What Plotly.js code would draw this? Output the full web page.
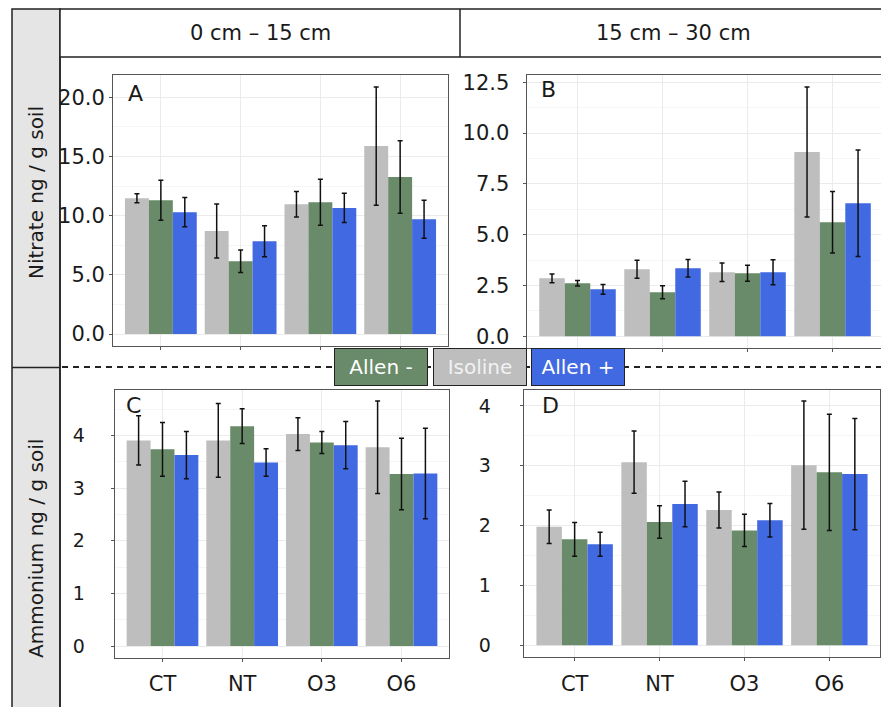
<!DOCTYPE html>
<html>
<head>
<meta charset="utf-8">
<script src="https://cdn.plot.ly/plotly-3.0.1.min.js"></script>
<style>html,body{margin:0;padding:0;background:#fff}#chart{width:881px;height:707px}</style>
</head>
<body>
<div id="chart"></div>
<script>
// ---------- data ----------
const categories = ["CT", "NT", "O3", "O6"];
const seriesNames = ["Isoline", "Allen -", "Allen +"];
const legendOrder = ["Allen -", "Isoline", "Allen +"];
const depthLabels = ["0 cm \u2013 15 cm", "15 cm \u2013 30 cm"];
const rowLabels = ["Nitrate ng / g soil", "Ammonium ng / g soil"];
const panelLetters = ["A", "B", "C", "D"];

// Panel A: nitrate 0-15 cm
const nitrateTopIsoline      = [11.47, 8.71, 10.96, 15.87];
const nitrateTopIsolineErr   = [0.38, 2.28, 1.08, 4.99];
const nitrateTopAllenMinus   = [11.30, 6.14, 11.13, 13.27];
const nitrateTopAllenMinusErr= [1.69, 0.95, 1.95, 3.06];
const nitrateTopAllenPlus    = [10.29, 7.83, 10.65, 9.69];
const nitrateTopAllenPlusErr = [1.23, 1.31, 1.23, 1.60];

// Panel B: nitrate 15-30 cm
const nitrateSubIsoline      = [2.85, 3.30, 3.15, 9.07];
const nitrateSubIsolineErr   = [0.21, 0.44, 0.45, 3.20];
const nitrateSubAllenMinus   = [2.61, 2.17, 3.10, 5.61];
const nitrateSubAllenMinusErr= [0.13, 0.32, 0.39, 1.51];
const nitrateSubAllenPlus    = [2.31, 3.35, 3.15, 6.55];
const nitrateSubAllenPlusErr = [0.24, 0.43, 0.62, 2.62];

// Panel C: ammonium 0-15 cm
const ammoniumTopIsoline      = [3.91, 3.91, 4.03, 3.78];
const ammoniumTopIsolineErr   = [0.47, 0.70, 0.31, 0.88];
const ammoniumTopAllenMinus   = [3.74, 4.18, 3.87, 3.27];
const ammoniumTopAllenMinusErr= [0.51, 0.33, 0.21, 0.68];
const ammoniumTopAllenPlus    = [3.63, 3.49, 3.82, 3.28];
const ammoniumTopAllenPlusErr = [0.45, 0.26, 0.45, 0.86];

// Panel D: ammonium 15-30 cm
const ammoniumSubIsoline      = [1.98, 3.06, 2.26, 3.01];
const ammoniumSubIsolineErr   = [0.28, 0.52, 0.30, 1.07];
const ammoniumSubAllenMinus   = [1.77, 2.06, 1.92, 2.89];
const ammoniumSubAllenMinusErr= [0.28, 0.27, 0.27, 0.97];
const ammoniumSubAllenPlus    = [1.69, 2.36, 2.09, 2.86];
const ammoniumSubAllenPlusErr = [0.20, 0.38, 0.28, 0.93];

// ---------- styling ----------
const W = 881, H = 707;
const FONT = "DejaVu Sans";
const colors = {"Isoline": "#bebebe", "Allen -": "#698b69", "Allen +": "#4169e1"};
const px = v => v / W;
const py = v => 1 - v / H;

const panels = [
  {xa: "x",  ya: "y",  data: [[nitrateTopIsoline, nitrateTopIsolineErr],[nitrateTopAllenMinus, nitrateTopAllenMinusErr],[nitrateTopAllenPlus, nitrateTopAllenPlusErr]]},
  {xa: "x2", ya: "y2", data: [[nitrateSubIsoline, nitrateSubIsolineErr],[nitrateSubAllenMinus, nitrateSubAllenMinusErr],[nitrateSubAllenPlus, nitrateSubAllenPlusErr]]},
  {xa: "x3", ya: "y3", data: [[ammoniumTopIsoline, ammoniumTopIsolineErr],[ammoniumTopAllenMinus, ammoniumTopAllenMinusErr],[ammoniumTopAllenPlus, ammoniumTopAllenPlusErr]]},
  {xa: "x4", ya: "y4", data: [[ammoniumSubIsoline, ammoniumSubIsolineErr],[ammoniumSubAllenMinus, ammoniumSubAllenMinusErr],[ammoniumSubAllenPlus, ammoniumSubAllenPlusErr]]}
];

const traces = [];
panels.forEach(p => {
  seriesNames.forEach((name, i) => {
    traces.push({
      type: "bar", name: name, x: categories, y: p.data[i][0],
      xaxis: p.xa, yaxis: p.ya, showlegend: false,
      marker: {color: colors[name], line: {width: 0}},
      error_y: {type: "data", array: p.data[i][1], visible: true, color: "#111", thickness: 1.5, width: 2.5}
    });
  });
});

function xax(domain, range, showLabels) {
  return {
    domain: domain, range: range, type: "category",
    showgrid: true, gridcolor: "#ebebeb", gridwidth: 1,
    showline: true, mirror: true, linecolor: "#555", linewidth: 1,
    ticks: "outside", ticklen: 3, tickcolor: "#555",
    showticklabels: showLabels, tickfont: {family: FONT, size: 21, color: "#1a1a1a"},
    ticklabelstandoff: 4, fixedrange: true
  };
}
function yax(domain, range, dtick, fmt, standoff, mirror, fsize) {
  return {
    domain: domain, range: range, dtick: dtick, tick0: 0, tickformat: fmt,
    showgrid: true, gridcolor: "#ebebeb", gridwidth: 1, zeroline: false,
    minor: {dtick: dtick / 2, showgrid: true, gridcolor: "#f5f5f5", gridwidth: 1},
    showline: true, mirror: mirror, linecolor: "#555", linewidth: 1,
    ticks: "outside", ticklen: 3, tickcolor: "#555",
    tickfont: {family: FONT, size: fsize, color: "#1a1a1a"},
    ticklabelstandoff: standoff, fixedrange: true
  };
}

const layout = {
  width: W, height: H, margin: {l: 0, r: 0, t: 0, b: 0},
  paper_bgcolor: "#fff", plot_bgcolor: "#fff",
  barmode: "group", bargap: 0.1, bargroupgap: 0,
  showlegend: false,
  font: {family: FONT, color: "#1a1a1a"},
  xaxis:  Object.assign(xax([px(113), px(448)], [-0.6, 3.6], false), {anchor: "y"}),
  yaxis:  Object.assign(yax([py(346), py(74.7)], [-1.01, 21.9], 5, ".1f", 0, true, 21), {anchor: "x"}),
  xaxis2: Object.assign(xax([px(526.5), 1], [-0.6, 3.57], false), {anchor: "y2"}),
  yaxis2: Object.assign(yax([py(348), py(74.7)], [-0.576, 12.87], 2.5, ".1f", 9, false, 21), {anchor: "x2"}),
  xaxis3: Object.assign(xax([px(114.7), px(449.3)], [-0.6, 3.6], true), {anchor: "y3"}),
  yaxis3: Object.assign(yax([py(658), py(389.7)], [-0.228, 4.874], 1, "d", 22, true, 19), {anchor: "x3"}),
  xaxis4: Object.assign(xax([px(523.7), px(880.3)], [-0.6, 3.6], true), {anchor: "y4"}),
  yaxis4: Object.assign(yax([py(657.3), py(389.7)], [-0.2, 4.27], 1, "d", 25, true, 19), {anchor: "x4"}),
  shapes: [
    // left strip
    {type: "rect", xref: "paper", yref: "paper", x0: px(12), x1: px(60), y0: py(712), y1: py(9),
     fillcolor: "#e5e5e5", line: {color: "#222", width: 1.5}, layer: "below"},
    {type: "line", xref: "paper", yref: "paper", x0: px(12), x1: px(60), y0: py(367.5), y1: py(367.5),
     line: {color: "#222", width: 1.5}},
    // header
    {type: "rect", xref: "paper", yref: "paper", x0: px(60), x1: px(884), y0: py(57), y1: py(9),
     fillcolor: "#fff", line: {color: "#222", width: 1.5}, layer: "below"},
    {type: "line", xref: "paper", yref: "paper", x0: px(460), x1: px(460), y0: py(57), y1: py(9),
     line: {color: "#222", width: 1.5}},
    {type: "line", xref: "paper", yref: "paper", x0: px(60), x1: px(60), y0: py(712), y1: py(57),
     line: {color: "#222", width: 1.5}},
    // dashed separator
    {type: "line", xref: "paper", yref: "paper", x0: px(62), x1: px(881), y0: py(367), y1: py(367),
     line: {color: "#222", width: 2, dash: "6px,5px"}}
  ],
  annotations: []
};

// header & row labels
layout.annotations.push(
  {xref: "paper", yref: "paper", x: px(260), y: py(33), text: depthLabels[0], showarrow: false,
   font: {family: FONT, size: 21, color: "#1a1a1a"}, xanchor: "center", yanchor: "middle"},
  {xref: "paper", yref: "paper", x: px(673), y: py(33), text: depthLabels[1], showarrow: false,
   font: {family: FONT, size: 21, color: "#1a1a1a"}, xanchor: "center", yanchor: "middle"},
  {xref: "paper", yref: "paper", x: px(36), y: py(193), text: rowLabels[0], showarrow: false, textangle: -90,
   font: {family: FONT, size: 20, color: "#1a1a1a"}, xanchor: "center", yanchor: "middle"},
  {xref: "paper", yref: "paper", x: px(36), y: py(549), text: rowLabels[1], showarrow: false, textangle: -90,
   font: {family: FONT, size: 20, color: "#1a1a1a"}, xanchor: "center", yanchor: "middle"}
);

// panel letters
const letterPos = [[126, 93], [539, 89], [124, 405], [540, 406]];
panelLetters.forEach((L, i) => {
  layout.annotations.push({xref: "paper", yref: "paper", x: px(letterPos[i][0]), y: py(letterPos[i][1]),
    text: L, showarrow: false, xanchor: "left", yanchor: "middle",
    font: {family: FONT, size: 22, color: "#1a1a1a"}});
});

// legend boxes
const legendCenters = [381.3, 479.5, 577.5];
legendOrder.forEach((name, i) => {
  layout.annotations.push({xref: "paper", yref: "paper", x: px(legendCenters[i]), y: py(367),
    text: name, showarrow: false, xanchor: "center", yanchor: "middle",
    width: 92, height: 36, borderpad: 0, borderwidth: 1, bordercolor: "#222",
    bgcolor: colors[name], font: {family: FONT, size: 20, color: name === "Isoline" ? "#f2f2f2" : "#ffffff"}});
});

Plotly.newPlot("chart", traces, layout, {displayModeBar: false, staticPlot: true});
</script>
</body>
</html>
